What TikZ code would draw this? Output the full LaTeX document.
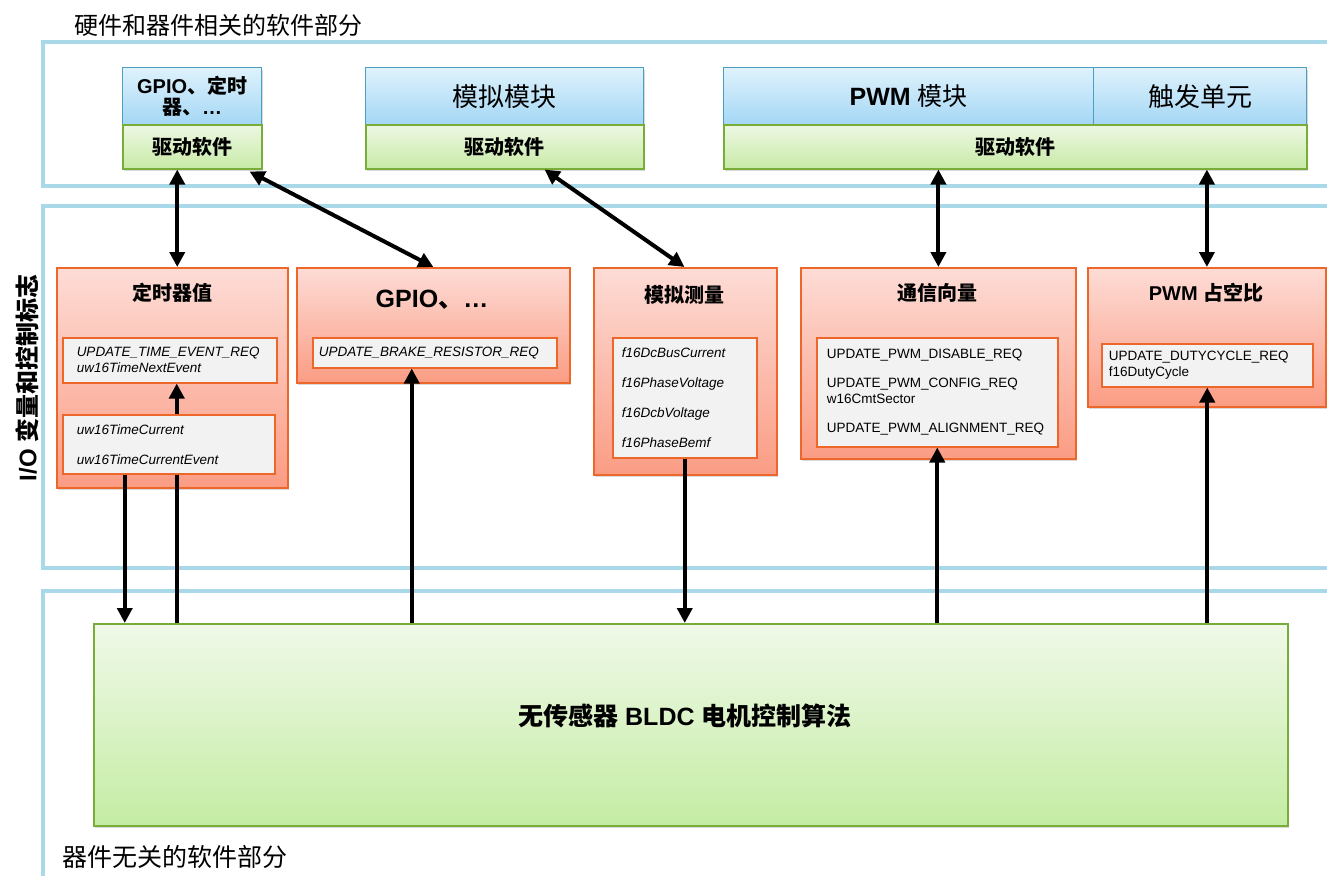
\documentclass[tikz,border=0pt]{standalone}
\usepackage{fontspec}
\setmainfont{Liberation Sans}
\newfontfamily\cjk{Noto Sans CJK SC}
\usetikzlibrary{arrows.meta}
\usetikzlibrary{shadows,positioning}
\tikzset{>={Triangle[length=15pt,width=15pt]}}
\definecolor{frameblue}{HTML}{A9D8E8}
\definecolor{hwtop}{HTML}{DFF2FC}
\definecolor{hwbot}{HTML}{A4D7F5}
\definecolor{hwline}{HTML}{4C9FBF}
\definecolor{drvtop}{HTML}{EDF8E4}
\definecolor{drvbot}{HTML}{C8EAA6}
\definecolor{drvline}{HTML}{77AD38}
\definecolor{iotop}{HTML}{FDDCD6}
\definecolor{iobot}{HTML}{FB9C84}
\definecolor{ioline}{HTML}{EE672A}
\definecolor{varfill}{HTML}{F2F2F2}
\definecolor{algtop}{HTML}{F0F9E9}
\definecolor{algbot}{HTML}{C4ECA3}
\newcommand\zh[1]{{\cjk #1}}
\newcommand\sz[2]{\fontsize{#1}{#2}\selectfont}
\tikzset{
	partframe/.style={draw=frameblue, line width=4pt},
	softshadow/.style={drop shadow={opacity=.3, shadow xshift=1.5pt, shadow yshift=-2.5pt}},
	hwbox/.style={draw=hwline, line width=1.3pt, top color=hwtop, bottom color=hwbot,
		anchor=north west, inner sep=0pt, align=center, minimum height=57pt, softshadow},
	drvbox/.style={draw=drvline, line width=1.5pt, top color=drvtop, bottom color=drvbot,
		anchor=north west, inner sep=0pt, minimum height=44pt, softshadow,
		font=\bfseries\sz{20}{24}},
	iobox/.style={draw=ioline, line width=1.8pt, top color=iotop, bottom color=iobot,
		anchor=north west, inner sep=0pt, softshadow},
	iotitle/.style={font=\bfseries\sz{20}{24}, inner sep=0pt},
	varbox/.style={draw=ioline, line width=1.5pt, fill=varfill, anchor=north west,
		align=left, inner ysep=0pt, font=\sz{13.5}{16}},
	link/.style={line width=4pt}
}

\begin{document}
\begin{tikzpicture}[x=1pt, y=-1pt]
	\clip (0,0) rectangle (1327,875);
	% the three software parts
	\draw[partframe] (1340,42) -| (43,186) -- (1340,186);
	\draw[partframe] (1340,206) -| (43,568) -- (1340,568);
	\draw[partframe] (1340,591) -| (43,900);
	\node[anchor=west, inner sep=0pt, font=\sz{24}{28}] (hwpart) at (74,25) {\zh{硬件和器件相关的软件部分}};
	\node[rotate=90, inner sep=0pt, font=\bfseries\sz{24}{28}] (iopart) at (27,378) {I/O \zh{变量和控制标志}};
	\node[anchor=west, inner sep=0pt, font=\sz{25}{28}] (freepart) at (62,857) {\zh{器件无关的软件部分}};

	% hardware modules and drivers
	\node[hwbox, minimum width=139pt, font=\bfseries\sz{20}{21}] (gpiohw) at (122,67) {GPIO\zh{、定时}\\\zh{器、}…};
	\node[drvbox, minimum width=139pt] (gpiodrv) at (122,124) {\zh{驱动软件}};
	\node[hwbox, minimum width=278pt, font=\sz{26}{28}] (adchw) at (365,67) {\zh{模拟模块}};
	\node[drvbox, minimum width=278pt] (adcdrv) at (365,124) {\zh{驱动软件}};
	\node[hwbox, minimum width=370pt, font=\sz{25}{28}] (pwmhw) at (723,67) {{\bfseries PWM} \zh{模块}};
	\node[hwbox, minimum width=213pt, font=\sz{26}{28}] (trghw) at (1093,67) {\zh{触发单元}};
	\node[drvbox, minimum width=583pt] (pwmdrv) at (723,124) {\zh{驱动软件}};

	% I/O variables
	\node[iobox, minimum width=231pt, minimum height=220pt] (tv) at (56,267) {};
	\node[iotitle] (tvT) at (172,293) {\zh{定时器值}};
	\node[varbox, text width=186pt, inner xsep=14pt, minimum height=45pt] (tv1) at (62,337)
		{\itshape UPDATE\_TIME\_EVENT\_REQ\\uw16TimeNextEvent};
	\node[varbox, text width=184pt, inner xsep=14pt, minimum height=59pt] (tv2) at (62,414)
		{\itshape uw16TimeCurrent\\[14pt]uw16TimeCurrentEvent};

	\node[iobox, minimum width=273pt, minimum height=115pt] (gp) at (296,267) {};
	\node[iotitle, font=\bfseries\sz{25}{28}] (gpT) at (432,300) {GPIO\zh{、}…};
	\node[varbox, text width=232pt, inner xsep=6pt, minimum height=30pt] (gp1) at (312,337)
		{\itshape UPDATE\_BRAKE\_RESISTOR\_REQ};

	\node[iobox, minimum width=183pt, minimum height=207pt] (am) at (593,267) {};
	\node[iotitle] (amT) at (684,295) {\zh{模拟测量}};
	\node[varbox, text width=126pt, inner xsep=9pt, minimum height=120pt] (am1) at (612,337)
		{\itshape f16DcBusCurrent\\[14pt]f16PhaseVoltage\\[14pt]f16DcbVoltage\\[14pt]f16PhaseBemf};

	\node[iobox, minimum width=275pt, minimum height=191pt] (cv) at (800,267) {};
	\node[iotitle] (cvT) at (937,293) {\zh{通信向量}};
	\node[varbox, text width=221pt, inner xsep=10pt, minimum height=109pt] (cv1) at (816,337)
		{UPDATE\_PWM\_DISABLE\_REQ\\[13pt]UPDATE\_PWM\_CONFIG\_REQ\\w16CmtSector\\[13pt]UPDATE\_PWM\_ALIGNMENT\_REQ};

	\node[iobox, minimum width=238pt, minimum height=139pt] (pw) at (1087,267) {};
	\node[iotitle] (pwT) at (1206,293) {PWM \zh{占空比}};
	\node[varbox, text width=197pt, inner xsep=7pt, minimum height=43pt] (pw1) at (1101,343)
		{UPDATE\_DUTYCYCLE\_REQ\\f16DutyCycle};

	% control algorithm
	\node[draw=drvline, line width=1.8pt, top color=algtop, bottom color=algbot, anchor=north west,
		minimum width=1194pt, minimum height=202pt, softshadow] (bldc) at (93,623) {};
	\node[font=\bfseries\sz{25}{28}] (bldcT) at ([xshift=-6pt,yshift=9pt]bldc.center) {\zh{无传感器} BLDC \zh{电机控制算法}};

	% links
	\draw[link,<->] ([xshift=-15pt]gpiodrv.south) -- ([xshift=-15pt]gpiodrv.south |- tv.north);
	\draw[link,<->] ([xshift=-13pt,yshift=-2pt]gpiodrv.south east) -- (gp.north);
	\draw[link,<->] ([xshift=-100pt]adcdrv.south east) -- ([xshift=-1pt]am.north);
	\draw[link,<->] (cv.north |- pwmdrv.south) -- (cv.north);
	\draw[link,<->] (pw.north |- pwmdrv.south) -- (pw.north);
	\draw[link,->] ([xshift=-44pt]tv2.south) -- ([xshift=-44pt]tv2.south |- bldc.north);
	\draw[link] ([xshift=8pt]tv2.south |- bldc.north) -- ([xshift=8pt]tv2.south);
	\draw[link,->] ([xshift=8pt]tv2.north) -- ([xshift=8pt]tv2.north |- tv1.south);
	\draw[link,->] ([xshift=-23pt]gp1.south |- bldc.north) -- ([xshift=-23pt]gp1.south);
	\draw[link,->] (am1.south) -- (am1.south |- bldc.north);
	\draw[link,->] (cv1.south |- bldc.north) -- (cv1.south);
	\draw[link,->] (pw1.south |- bldc.north) -- (pw1.south);
\end{tikzpicture}
\end{document}
